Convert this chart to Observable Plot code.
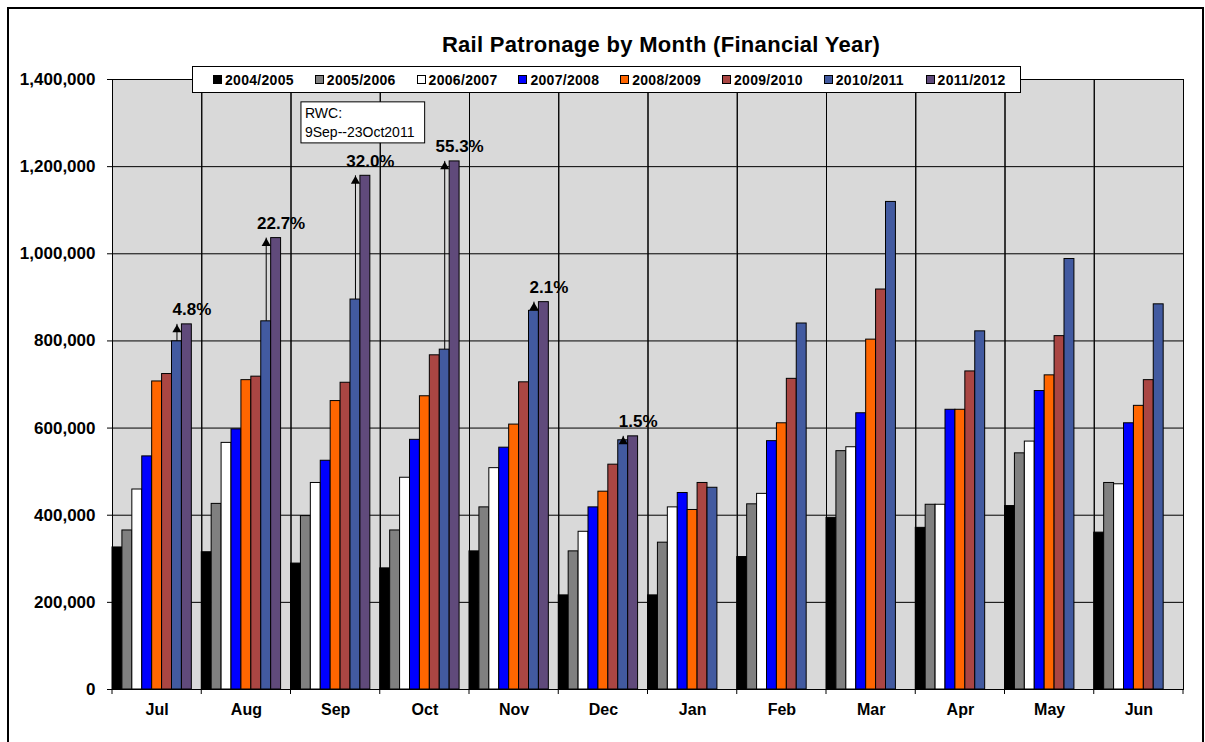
<!DOCTYPE html>
<html>
<head>
<meta charset="utf-8">
<script src="https://cdn.jsdelivr.net/npm/d3@7"></script>
<script src="https://cdn.jsdelivr.net/npm/@observablehq/plot@0.6"></script>
<style>
  html, body { margin: 0; padding: 0; background: #fff; }
  #wrap { position: relative; width: 1205px; height: 742px; overflow: hidden; font-family: "Liberation Sans", Arial, sans-serif; }
  #border { position: absolute; left: 7px; top: 7px; width: 1193px; height: 760px; border: 2px solid #000; box-sizing: content-box; }
  #title { position: absolute; left: 350px; width: 622px; top: 34px; text-align: center; font-weight: bold; font-size: 22px; letter-spacing: 0.3px; line-height: 22px; color: #000; white-space: nowrap; }
  #legend { position: absolute; left: 192px; top: 66px; width: 807px; height: 25px; border: 1px solid #000; background: #fff; display: flex; align-items: center; padding-left: 20px; box-sizing: content-box; z-index: 2; }
  .item { width: 101.8px; flex: none; display: flex; align-items: center; font-weight: bold; font-size: 14px; letter-spacing: 0.3px; white-space: nowrap; }
  .sw { width: 7px; height: 7px; border: 1px solid #000; margin-right: 3px; }
  #chart { position: absolute; left: 0; top: 0; }
</style>
</head>
<body>
<div id="wrap">
  <div id="border"></div>
  <div id="chart"></div>
  <div id="title">Rail Patronage by Month (Financial Year)</div>
  <div id="legend"></div>
</div>
<script>
// ---- data ----
const months = ["Jul","Aug","Sep","Oct","Nov","Dec","Jan","Feb","Mar","Apr","May","Jun"];
const series = ["2004/2005","2005/2006","2006/2007","2007/2008","2008/2009","2009/2010","2010/2011","2011/2012"];
const colors = ["#000000","#808080","#ffffff","#0000ff","#ff6600","#aa4643","#425aa0","#604a7b"];

const fy2004 = [326000, 315000, 289000, 278000, 317000, 216000, 216000, 304000, 394000, 371000, 421000, 360000];
const fy2005 = [365000, 426000, 398000, 365000, 418000, 317000, 337000, 425000, 547000, 424000, 542000, 474000];
const fy2006 = [459000, 566000, 474000, 486000, 508000, 362000, 418000, 449000, 556000, 424000, 569000, 471000];
const fy2007 = [535000, 597000, 525000, 573000, 555000, 418000, 451000, 570000, 634000, 642000, 685000, 611000];
const fy2008 = [707000, 710000, 662000, 673000, 608000, 454000, 412000, 611000, 803000, 642000, 721000, 651000];
const fy2009 = [724000, 718000, 704000, 767000, 705000, 516000, 474000, 713000, 918000, 730000, 811000, 710000];
const fy2010 = [799000, 845000, 895000, 780000, 869000, 572000, 463000, 840000, 1119000, 822000, 988000, 884000];
const fy2011 = [838000, 1036000, 1179000, 1212000, 889000, 581000, null, null, null, null, null, null];

const growthMonths = ["Jul","Aug","Sep","Oct","Nov","Dec"];
const growthLabels = ["4.8%","22.7%","32.0%","55.3%","2.1%","1.5%"];

const yTicks = [0, 200000, 400000, 600000, 800000, 1000000, 1200000, 1400000];

const noteMonth = "Sep";
const noteValue = 1343000;
const noteText = "RWC:\n9Sep--23Oct2011";

// ---- build table ----
const seriesValues = [fy2004, fy2005, fy2006, fy2007, fy2008, fy2009, fy2010, fy2011];
const rows = [];
series.forEach((s, si) => months.forEach((m, mi) => {
  const v = seriesValues[si][mi];
  if (v != null) rows.push({month: m, series: s, value: v});
}));
const growth = growthMonths.map((m, i) => {
  const mi = months.indexOf(m);
  return {month: m, from: fy2010[mi], to: fy2011[mi], label: growthLabels[i]};
});

const chart = Plot.plot({
  width: 1205,
  height: 742,
  marginLeft: 112,
  marginRight: 22,
  marginTop: 79,
  marginBottom: 53,
  style: {fontFamily: "'Liberation Sans', Arial, sans-serif", background: "transparent", color: "#000", overflow: "visible"},
  fx: {domain: months, padding: 0, round: false, label: null},
  x: {domain: series, paddingInner: 0, paddingOuter: 0.5, align: 0, round: false, axis: null},
  y: {domain: [0, 1400000], axis: null},
  color: {domain: series, range: colors},
  marks: [
    Plot.frame({fill: "#d9d9d9"}),
    Plot.gridY(yTicks, {stroke: "#000", strokeOpacity: 1, strokeWidth: 1}),
    Plot.barY(rows, {fx: "month", x: "series", y: "value", fill: "series", stroke: "#000", strokeWidth: 1}),
    Plot.frame({stroke: "#000", strokeWidth: 1}),
    Plot.ruleX(growth, {fx: "month", x: () => series[6], y1: "from", y2: "to", stroke: "#000", strokeWidth: 1}),
    Plot.dot(growth, {fx: "month", x: () => series[6], y: "to", symbol: "triangle", r: 3.4, fill: "#000", stroke: null, dy: 5.3}),
    Plot.text(growth, {fx: "month", x: () => series[7], y: "to", text: "label", dx: 5, dy: -9, lineAnchor: "bottom", fontWeight: "bold", fontSize: 17, fill: "#000"}),
    Plot.text([{month: noteMonth, value: noteValue, text: noteText}], {fx: "month", x: () => series[0], y: "value", text: "text", textAnchor: "start", lineAnchor: "top", dx: 9, fontSize: 14, lineHeight: 1.36, fill: "#000"}),
    Plot.axisY({ticks: yTicks, tickFormat: d3.format(","), tickSize: 5, tickPadding: 12, fontWeight: "bold", fontSize: 17, label: null}),
    Plot.axisFx({anchor: "bottom", tickSize: 0, tickPadding: 14, fontWeight: "bold", fontSize: 16, label: null})
  ]
});
document.getElementById("chart").appendChild(chart);

// boundary tick marks below the category axis
const fxS = chart.scale("fx");
const yS = chart.scale("y");
const fx0 = Math.min(...fxS.range), fx1 = Math.max(...fxS.range);
const step = (fx1 - fx0) / fxS.domain.length;
const y0 = Math.max(...yS.range);
const svg = d3.select(chart);
const tg = svg.append("g").attr("stroke", "#000").attr("stroke-width", 1);
for (let i = 0; i <= fxS.domain.length; i++) {
  const xx = fx0 + i * step;
  tg.append("line").attr("x1", xx).attr("x2", xx).attr("y1", y0).attr("y2", y0 + 5);
}

// white box behind the note text
svg.selectAll("text").each(function() {
  if (this.textContent.startsWith("RWC:")) {
    const bb = this.getBBox();
    const host = this.parentNode;
    const r = d3.select(host).insert("rect", () => this)
      .attr("x", bb.x - 4).attr("y", bb.y - 3)
      .attr("width", bb.width + 14).attr("height", bb.height + 6)
      .attr("fill", "#fff").attr("stroke", "#000").attr("stroke-width", 1);
    const tr = this.getAttribute("transform");
    if (tr) r.attr("transform", tr);
  }
});

// legend
const leg = document.getElementById("legend");
series.forEach((s, i) => {
  const it = document.createElement("div");
  it.className = "item";
  const sw = document.createElement("div");
  sw.className = "sw";
  sw.style.background = colors[i];
  it.appendChild(sw);
  it.appendChild(document.createTextNode(s));
  leg.appendChild(it);
});
</script>
</body>
</html>
